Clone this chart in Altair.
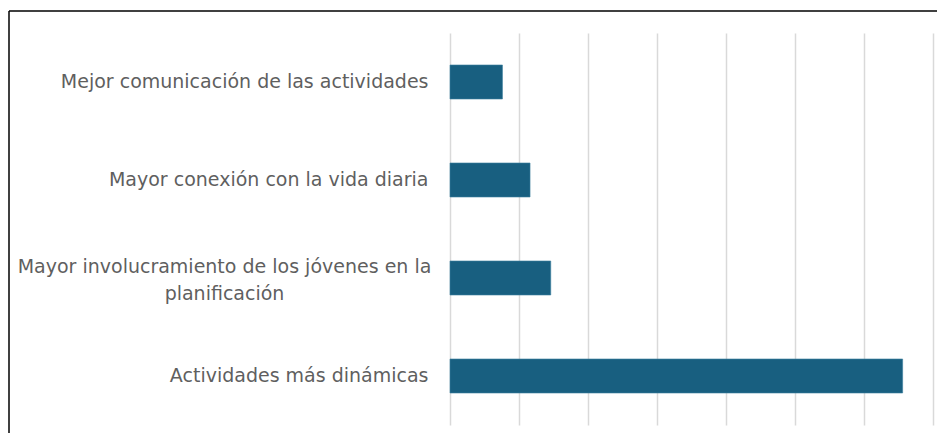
import altair as alt
import pandas as pd

categories = [
    "Mejor comunicación de las actividades",
    "Mayor conexión con la vida diaria",
    "Mayor involucramiento de los jóvenes en la|planificación",
    "Actividades más dinámicas",
]
values = [7.6, 11.6, 14.6, 65.6]
x_ticks = [0, 10, 20, 30, 40, 50, 60, 70]

df = pd.DataFrame({"categoria": categories, "valor": values})

WRAPPED = "indexof(datum.value, '|') >= 0"

bars = alt.Chart(df).mark_bar(color="#185f80", stroke="#3d7fa0", strokeWidth=0.6).encode(
    x=alt.X(
        "valor:Q",
        scale=alt.Scale(domain=[0, 70], nice=False),
        axis=alt.Axis(
            values=x_ticks, labels=False, ticks=False, domain=False, title=None,
            grid=True, gridColor="#d9d9d9", gridWidth=1.5,
        ),
    ),
    y=alt.Y(
        "categoria:N",
        sort=categories,
        scale=alt.Scale(paddingInner=0.653, paddingOuter=0.3265),
        axis=alt.Axis(
            title=None, ticks=False, domain=False, grid=False,
            labelExpr="split(datum.label, '|')",
            labelFont="DejaVu Sans", labelFontSize=19, labelColor="#5f5f5f",
            labelLimit=1000, labelLineHeight=27,
            labelAlign={"condition": {"test": WRAPPED, "value": "center"}, "value": "right"},
            labelPadding={"condition": {"test": WRAPPED, "value": 226}, "value": 22},
            labelOffset={"condition": {"test": WRAPPED, "value": -11}, "value": 0},
        ),
    ),
)

frame_top = alt.Chart(pd.DataFrame({"f": [0]})).mark_rule(
    color="black", strokeWidth=1.5
).encode(x=alt.value(-441), x2=alt.value(1000), y=alt.value(-22))

frame_left = alt.Chart(pd.DataFrame({"f": [0]})).mark_rule(
    color="black", strokeWidth=1.5
).encode(x=alt.value(-441), y=alt.value(-22), y2=alt.value(1000))

chart = alt.layer(bars, frame_top, frame_left).properties(
    width=483, height=392,
    autosize=alt.AutoSizeParams(type="none"),
    padding={"left": 442, "top": 25, "right": 4, "bottom": 8},
).configure_view(stroke=None)

chart.save("out.html", embed_options={"renderer": "svg", "actions": False})
